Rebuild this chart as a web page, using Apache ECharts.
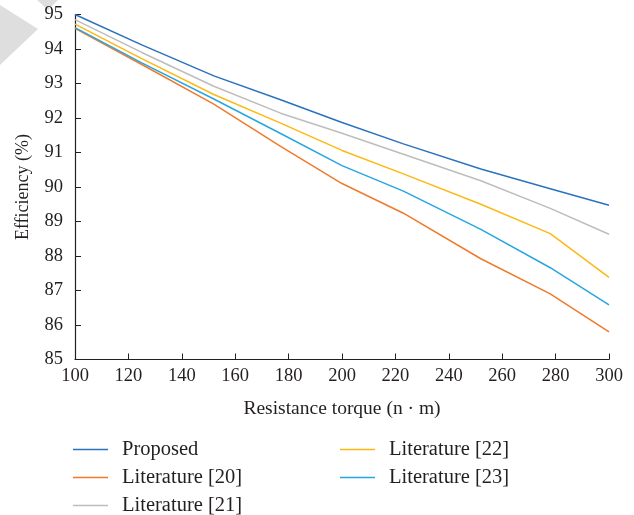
<!DOCTYPE html>
<html>
<head>
<meta charset="utf-8">
<script src="https://cdn.jsdelivr.net/npm/echarts@6/dist/echarts.min.js"></script>
<style>
  html, body { margin: 0; padding: 0; background: #fff; }
  #chart { width: 634px; height: 515px; }
</style>
</head>
<body>
<div id="chart"></div>
<script>
  // torque points (n·m)
  const torque = [100, 125, 152, 177, 200, 223, 252, 278, 300]
  const proposed = [95.0, 94.12, 93.22, 92.53, 91.87, 91.25, 90.52, 89.95, 89.47]
  const lit20 = [94.6, 93.55, 92.4, 91.18, 90.1, 89.24, 87.92, 86.9, 85.8]
  const lit21 = [94.85, 93.9, 92.92, 92.14, 91.56, 90.95, 90.18, 89.38, 88.63]
  const lit22 = [94.72, 93.72, 92.68, 91.85, 91.06, 90.38, 89.5, 88.65, 87.38]
  const lit23 = [94.62, 93.6, 92.55, 91.55, 90.62, 89.88, 88.77, 87.66, 86.58]
  const xTicks = [100, 120, 140, 160, 180, 200, 220, 240, 260, 280, 300]
  const yTicks = [85, 86, 87, 88, 89, 90, 91, 92, 93, 94, 95]

  const ink = '#231f20'
  const font = 'Liberation Serif'

  function pairs(ys) {
    return torque.map((t, i) => [t, ys[i]])
  }

  const chart = echarts.init(document.getElementById('chart'))

  const seriesList = [
    {name: 'Proposed', data: proposed, color: '#2a72bd'},
    {name: 'Literature [20]', data: lit20, color: '#f07a2c'},
    {name: 'Literature [21]', data: lit21, color: '#bdbdbd'},
    {name: 'Literature [22]', data: lit22, color: '#fdb913'},
    {name: 'Literature [23]', data: lit23, color: '#27a6e1'}
  ]

  const legendBase = {
    orient: 'vertical',
    top: 439,
    height: 80,
    padding: 0,
    itemWidth: 35,
    itemHeight: 1.5,
    itemGap: 7,
    icon: 'rect',
    textStyle: {fontFamily: font, fontSize: 20.5, color: ink, lineHeight: 20, padding: [0, 0, 0, 9]}
  }

  chart.setOption({
    animation: false,
    textStyle: {fontFamily: font},
    graphic: [
      {type: 'polygon', shape: {points: [[0, 5], [38, 29], [0, 65]]}, style: {fill: '#dedede'}, z: -1},
      {type: 'polygon', shape: {points: [[37, 0], [58, 0], [48, 10]]}, style: {fill: '#dedede'}, z: -1}
    ],
    grid: {left: 75, right: 25, top: 14.5, bottom: 155.5, containLabel: false},
    legend: [
      Object.assign({}, legendBase, {left: 73, data: ['Proposed', 'Literature [20]', 'Literature [21]']}),
      Object.assign({}, legendBase, {left: 340, data: ['Literature [22]', 'Literature [23]']})
    ],
    xAxis: {
      type: 'value',
      min: xTicks[0],
      max: xTicks[xTicks.length - 1],
      interval: 20,
      name: 'Resistance torque (n \u00b7 m)',
      nameLocation: 'middle',
      nameGap: 39,
      nameTextStyle: {fontFamily: font, fontSize: 19.5, color: ink},
      axisLine: {lineStyle: {color: ink, width: 1.2}},
      axisTick: {inside: true, length: 6, lineStyle: {color: ink}},
      axisLabel: {fontFamily: font, fontSize: 18.5, color: ink, margin: 7},
      splitLine: {show: false}
    },
    yAxis: {
      type: 'value',
      min: yTicks[0],
      max: yTicks[yTicks.length - 1],
      interval: 1,
      name: 'Efficiency (%)',
      nameLocation: 'middle',
      nameGap: 43,
      nameTextStyle: {fontFamily: font, fontSize: 18, color: ink},
      axisLine: {show: true, lineStyle: {color: ink, width: 1.2}},
      axisTick: {show: true, inside: true, length: 6, lineStyle: {color: ink}},
      axisLabel: {fontFamily: font, fontSize: 18.5, color: ink, margin: 12},
      splitLine: {show: false}
    },
    series: seriesList.map(s => ({
      name: s.name,
      type: 'line',
      data: pairs(s.data),
      showSymbol: false,
      symbol: 'none',
      color: s.color,
      lineStyle: {color: s.color, width: 1.5}
    }))
  })
</script>
</body>
</html>
